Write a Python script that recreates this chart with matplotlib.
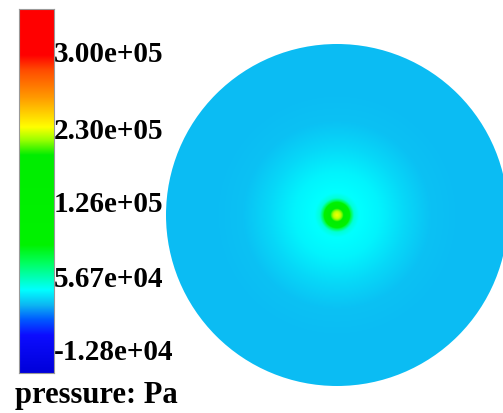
import numpy as np
import matplotlib
matplotlib.use("Agg")
import matplotlib.pyplot as plt
from matplotlib.colors import LinearSegmentedColormap
from matplotlib.patches import Circle

# --- data ---
tick_labels = ["-1.28e+04", "5.67e+04", "1.26e+05", "2.30e+05", "3.00e+05"]
tick_values = [-1.28e4, 5.67e4, 1.26e5, 2.30e5, 3.00e5]
# radial pressure profile of the disk (r normalised by disk radius, Pa)
profile_r = [0.0, 0.02, 0.035, 0.05, 0.065, 0.08, 0.10, 0.13, 0.25, 0.40, 0.55, 0.75, 1.0]
profile_p = [2.3e5, 2.2e5, 2.0e5, 1.55e5, 1.12e5, 7.5e4, 5.0e4, 4.4e4, 4.15e4, 3.6e4, 3.15e4, 3.05e4, 3.05e4]
colorbar_title = "pressure: Pa"

# --- colormap (position along bar, colour) ---
stops = [
    (0.0, (0.0, 0.0, 0.85)),
    (0.104, (0.05, 0.05, 1.0)),
    (0.146, (0.0, 0.35, 1.0)),
    (0.187, (0.05, 0.72, 0.95)),
    (0.228, (0.0, 1.0, 1.0)),
    (0.305, (0.0, 1.0, 0.35)),
    (0.352, (0.0, 0.95, 0.0)),
    (0.599, (0.0, 0.93, 0.0)),
    (0.64, (0.6, 1.0, 0.0)),
    (0.676, (1.0, 1.0, 0.0)),
    (0.758, (1.0, 0.6, 0.0)),
    (0.832, (1.0, 0.3, 0.0)),
    (0.874, (1.0, 0.0, 0.0)),
    (1.0, (1.0, 0.0, 0.0)),
]
cmap = LinearSegmentedColormap.from_list("fluent", stops, N=2048)

tick_pos = [0.0632, 0.266, 0.470, 0.673, 0.882]
# extend mapping to bar ends
s0 = (tick_values[1] - tick_values[0]) / (tick_pos[1] - tick_pos[0])
s1 = (tick_values[-1] - tick_values[-2]) / (tick_pos[-1] - tick_pos[-2])
pos_ext = [0.0] + tick_pos + [1.0]
val_ext = [tick_values[0] - tick_pos[0] * s0] + tick_values + [tick_values[-1] + (1 - tick_pos[-1]) * s1]

W, H = 503, 413
fig = plt.figure(figsize=(W / 100, H / 100), dpi=100)
fig.patch.set_facecolor("white")

# colorbar
cax = fig.add_axes([19 / W, (H - 373) / H, 35 / W, 364 / H])
grad = np.linspace(0, 1, 1024).reshape(-1, 1)
cax.imshow(grad, cmap=cmap, origin="lower", aspect="auto", extent=[0, 1, 0, 1], vmin=0, vmax=1)
cax.set_xlim(0, 1)
cax.set_ylim(0, 1)
cax.set_xticks([])
cax.yaxis.tick_right()
cax.set_yticks(tick_pos)
cax.set_yticklabels(tick_labels, fontsize=21, fontweight="bold", family="Liberation Serif")
cax.tick_params(axis="y", length=0, pad=0)
for sp in cax.spines.values():
    sp.set_color("#999999")
    sp.set_linewidth(0.8)

fig.text(15 / W, 10 / H, colorbar_title, fontsize=22, fontweight="bold",
         family="Liberation Serif", va="baseline", ha="left")

# disk
ax = fig.add_axes([166 / W, (H - 386) / H, 342 / W, 342 / H])
n = 700
x = np.linspace(-1, 1, n)
X, Y = np.meshgrid(x, x)
r = np.sqrt(X ** 2 + Y ** 2)
P = np.interp(r, profile_r, profile_p)
F = np.interp(P, val_ext, pos_ext)
im = ax.imshow(F, cmap=cmap, vmin=0, vmax=1, origin="lower", extent=[-1, 1, -1, 1],
               interpolation="bilinear")
clip = Circle((0, 0), 1.0, transform=ax.transData, facecolor="none", edgecolor="none")
ax.add_patch(clip)
im.set_clip_path(clip)
ax.set_xlim(-1, 1)
ax.set_ylim(-1, 1)
ax.axis("off")

fig.savefig("out.png", dpi=100, facecolor="white")
